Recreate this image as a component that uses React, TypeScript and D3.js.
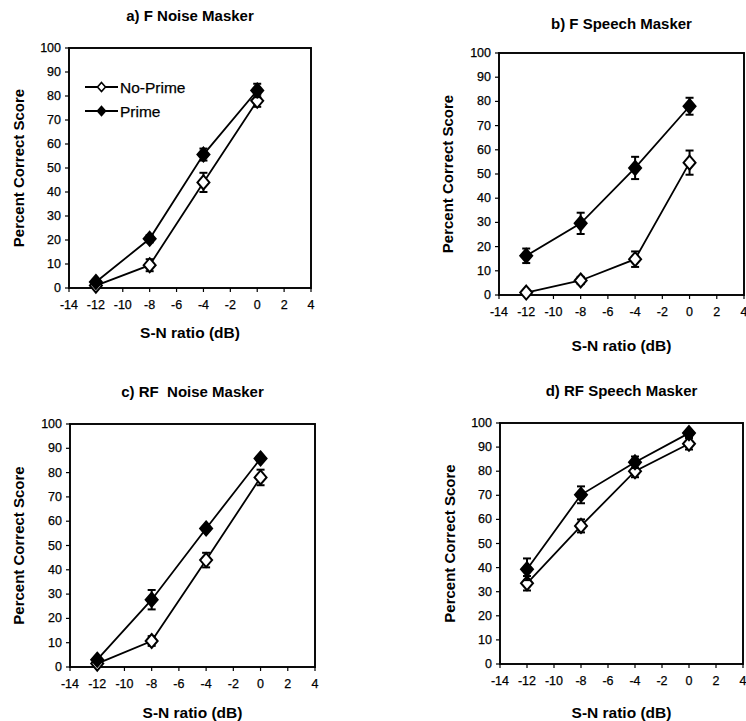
import React from "react";
import * as d3 from "d3";

const snr = [-12, -8, -4, 0];
const xTicks = [-14, -12, -10, -8, -6, -4, -2, 0, 2, 4];
const yTicks = [0, 10, 20, 30, 40, 50, 60, 70, 80, 90, 100];
const seriesNames = ["No-Prime", "Prime"];
const titles = ["a) F Noise Masker", "b) F Speech Masker", "c) RF  Noise Masker", "d) RF Speech Masker"];
const xLabel = "S-N ratio (dB)";
const yLabel = "Percent Correct Score";

const aNoPrime = [1, 9.5, 44, 78];
const aNoPrimeErr = [0.5, 2.5, 4, 2.5];
const aPrime = [2.5, 20.5, 55.6, 82.3];
const aPrimeErr = [1, 1.5, 2.5, 2.8];

const bNoPrime = [1, 6, 14.8, 54.7];
const bNoPrimeErr = [0.5, 1.5, 3.2, 5];
const bPrime = [16.2, 29.6, 52.5, 78];
const bPrimeErr = [3, 4.4, 4.6, 3.5];

const cNoPrime = [1.4, 10.7, 44, 78];
const cNoPrimeErr = [0.8, 2, 3, 3.2];
const cPrime = [3, 27.7, 57, 85.8];
const cPrimeErr = [1, 4, 1, 1];

const dNoPrime = [33.5, 57.3, 80, 91.4];
const dNoPrimeErr = [3, 2.7, 2.5, 2.4];
const dPrime = [39.3, 70.2, 83.7, 95.8];
const dPrimeErr = [4.5, 3.5, 2.4, 1];

const FONT = "'Liberation Sans', Arial, Helvetica, sans-serif";

type PanelProps = {
  title: string;
  noPrime: number[];
  noPrimeErr: number[];
  prime: number[];
  primeErr: number[];
  left: number;
  right: number;
  top: number;
  bottom: number;
  titleY: number;
  yLabelX: number;
  xLabelY: number;
  legend?: boolean;
};

const diamond = (cx: number, cy: number, w: number, h: number) =>
  `M${cx},${cy - h}L${cx + w},${cy}L${cx},${cy + h}L${cx - w},${cy}Z`;

function Panel(p: PanelProps) {
  const x = d3.scaleLinear().domain([-14, 4]).range([p.left, p.right]);
  const y = d3.scaleLinear().domain([0, 100]).range([p.bottom, p.top]);
  const line = d3
    .line<number>()
    .x((_, i) => x(snr[i]))
    .y((v) => y(v));
  const cx = (p.left + p.right) / 2;
  const cy = (p.top + p.bottom) / 2;

  const series = [
    { vals: p.noPrime, errs: p.noPrimeErr, fill: "#fff" },
    { vals: p.prime, errs: p.primeErr, fill: "#000" },
  ];

  return (
    <g>
      <text x={cx} y={p.titleY} textAnchor="middle" dominantBaseline="central" fontFamily={FONT} fontWeight="bold" fontSize={15} style={{ whiteSpace: "pre" }}>
        {p.title}
      </text>
      <text
        transform={`translate(${p.yLabelX},${cy}) rotate(-90)`}
        textAnchor="middle"
        dominantBaseline="central"
        fontFamily={FONT}
        fontWeight="bold"
        fontSize={15}
      >
        {yLabel}
      </text>
      <text x={cx} y={p.xLabelY} textAnchor="middle" dominantBaseline="central" fontFamily={FONT} fontWeight="bold" fontSize={15.5}>
        {xLabel}
      </text>
      <rect x={p.left} y={p.top} width={p.right - p.left} height={p.bottom - p.top} fill="none" stroke="#000" strokeWidth={1.9} />
      {yTicks.map((t) => (
        <g key={"y" + t}>
          <line x1={p.left - 4} x2={p.left} y1={y(t)} y2={y(t)} stroke="#000" strokeWidth={1.2} />
          <text x={p.left - 8} y={y(t)} textAnchor="end" dominantBaseline="central" fontFamily={FONT} fontSize={12.5} stroke="#000" strokeWidth={0.25}>
            {t}
          </text>
        </g>
      ))}
      {xTicks.map((t) => (
        <g key={"x" + t}>
          <line x1={x(t)} x2={x(t)} y1={p.bottom} y2={p.bottom + 4} stroke="#000" strokeWidth={1.2} />
          <text x={x(t)} y={p.bottom + 17} textAnchor="middle" dominantBaseline="central" fontFamily={FONT} fontSize={12.5} stroke="#000" strokeWidth={0.25}>
            {t}
          </text>
        </g>
      ))}
      {series.map((s, si) => (
        <g key={"s" + si}>
          <path d={line(s.vals) || ""} fill="none" stroke="#000" strokeWidth={1.8} />
          {s.vals.map((v, i) => {
            const px = x(snr[i]);
            const y1 = y(v + s.errs[i]);
            const y2 = y(v - s.errs[i]);
            return (
              <g key={i}>
                <line x1={px} x2={px} y1={y1} y2={y2} stroke="#000" strokeWidth={2} />
                <line x1={px - 4} x2={px + 4} y1={y1} y2={y1} stroke="#000" strokeWidth={2} />
                <line x1={px - 4} x2={px + 4} y1={y2} y2={y2} stroke="#000" strokeWidth={2} />
              </g>
            );
          })}
          {s.vals.map((v, i) => (
            <path key={"m" + i} d={diamond(x(snr[i]), y(v), 6, 7)} fill={s.fill} stroke="#000" strokeWidth={2} />
          ))}
        </g>
      ))}
      {p.legend &&
        seriesNames.map((name, i) => {
          const ly = p.top + 39 + i * 24;
          const lx = p.left + 16;
          return (
            <g key={"l" + i}>
              <line x1={lx} x2={lx + 33} y1={ly} y2={ly} stroke="#000" strokeWidth={2} />
              <path d={diamond(lx + 16.5, ly, 4, 4.5)} fill={series[i].fill} stroke="#000" strokeWidth={1.6} />
              <text x={lx + 35} y={ly} dominantBaseline="central" fontFamily={FONT} fontSize={15.5} stroke="#000" strokeWidth={0.25}>
                {name}
              </text>
            </g>
          );
        })}
    </g>
  );
}

export default function App() {
  return (
    <svg width={746} height={721} style={{ position: "absolute", left: 0, top: 0, background: "#fff" }}>
      <rect width={746} height={721} fill="#fff" />
      <Panel
        title={titles[0]}
        noPrime={aNoPrime}
        noPrimeErr={aNoPrimeErr}
        prime={aPrime}
        primeErr={aPrimeErr}
        left={69}
        right={311}
        top={48}
        bottom={288}
        titleY={15}
        yLabelX={18}
        xLabelY={332}
        legend
      />
      <Panel
        title={titles[1]}
        noPrime={bNoPrime}
        noPrimeErr={bNoPrimeErr}
        prime={bPrime}
        primeErr={bPrimeErr}
        left={499}
        right={744}
        top={53}
        bottom={295}
        titleY={23}
        yLabelX={447}
        xLabelY={345}
      />
      <Panel
        title={titles[2]}
        noPrime={cNoPrime}
        noPrimeErr={cNoPrimeErr}
        prime={cPrime}
        primeErr={cPrimeErr}
        left={70}
        right={315}
        top={424}
        bottom={667}
        titleY={391}
        yLabelX={18}
        xLabelY={712}
      />
      <Panel
        title={titles[3]}
        noPrime={dNoPrime}
        noPrimeErr={dNoPrimeErr}
        prime={dPrime}
        primeErr={dPrimeErr}
        left={500}
        right={743}
        top={423}
        bottom={664}
        titleY={390}
        yLabelX={449}
        xLabelY={712}
      />
    </svg>
  );
}
